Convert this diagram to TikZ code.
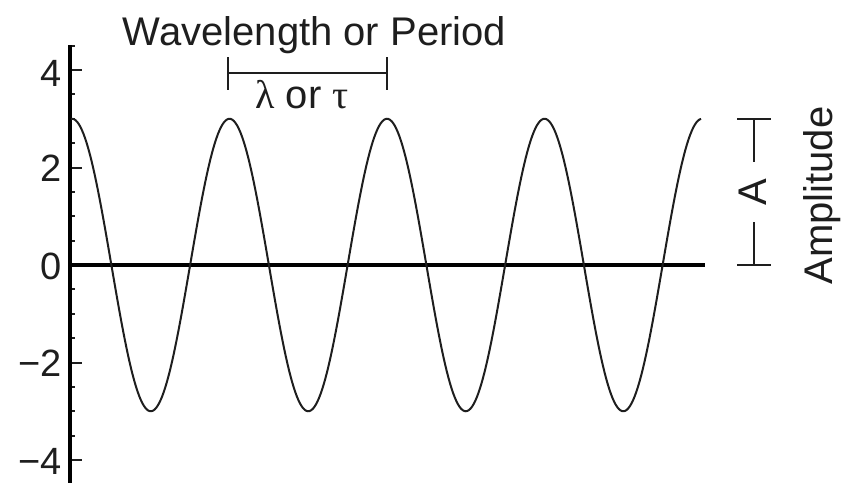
\documentclass[tikz,border=0pt]{standalone}
\usepackage{fontspec}
\setmainfont{Liberation Sans}
\newfontfamily\grk{Liberation Serif}
\definecolor{ink}{HTML}{1E1E1E}
\begin{document}
\begin{tikzpicture}[x=1pt,y=-1pt,
  lbl/.style={text=ink,inner sep=0pt,font=\fontsize{38}{44}\selectfont},
  big/.style={text=ink,inner sep=0pt,font=\fontsize{40}{46}\selectfont},
  axisline/.style={draw=black,line width=4.2pt},
  zeroline/.style={draw=black,line width=3.6pt},
  wave/.style={draw=ink,line width=2pt},
  bar/.style={draw=ink,line width=2pt},
  majtick/.style={draw=ink,line width=2pt},
  mintick/.style={draw=ink,line width=2pt}]
\useasboundingbox (0,0) rectangle (842,482);
% axis
\coordinate (axtop) at (70,45);
\coordinate (axbot) at (70,486);
\draw[axisline] (axtop) -- (axbot);
\coordinate (z0) at (70,265);
\coordinate (z1) at (705,265);
% ticks
\foreach \k in {-9,...,9}{
  \pgfmathtruncatemacro{\m}{mod(abs(\k),4)}
  \ifnum\m=0
    \draw[majtick] (72,{265-\k*24.375}) -- (82,{265-\k*24.375});
  \else
    \draw[mintick] (72,{265-\k*24.375}) -- (75,{265-\k*24.375});
  \fi
}
\draw[zeroline] (z0) -- (z1);
% labels
\node[lbl,anchor=east] (l4) at (62,73) {4};
\node[lbl,anchor=east] (l2) at (62,168) {2};
\node[lbl,anchor=east] (l0) at (62,266) {0};
\node[lbl,anchor=east] (lm2) at (62,363) {−2};
\node[lbl,anchor=east] (lm4) at (62,461) {−4};
% wave
\draw[wave] plot[domain=-0.006:4,samples=400,variable=\t] ({72+157.5*\t},{265-146.25*cos(360*\t)});
% wavelength bar
\coordinate (wl) at (228,73);
\coordinate (wr) at (387,73);
\draw[bar] (wl) -- (wr);
\draw[bar] ([yshift=16pt]wl) -- ([yshift=-17pt]wl);
\draw[bar] ([yshift=16pt]wr) -- ([yshift=-17pt]wr);
\node[big,anchor=base] (title) at (314.5,45) {Wavelength or Period};
\node[big,anchor=base] (lam) at (302,108) {{\grk λ} or {\grk τ}};
% amplitude bar
\coordinate (at) at (754,119);
\coordinate (ab) at (754,265);
\coordinate (am1) at (754,162);
\coordinate (am2) at (754,222);
\draw[bar] (at) -- (am1);
\draw[bar] (am2) -- (ab);
\draw[bar] ([xshift=-17pt]at) -- ([xshift=17pt]at);
\draw[bar] ([xshift=-17pt]ab) -- ([xshift=17pt]ab);
\node[big,rotate=90,anchor=base] (A) at (766,192) {A};
\node[big,rotate=90,anchor=base] (amp) at (832,195.5) {Amplitude};
\end{tikzpicture}
\end{document}
